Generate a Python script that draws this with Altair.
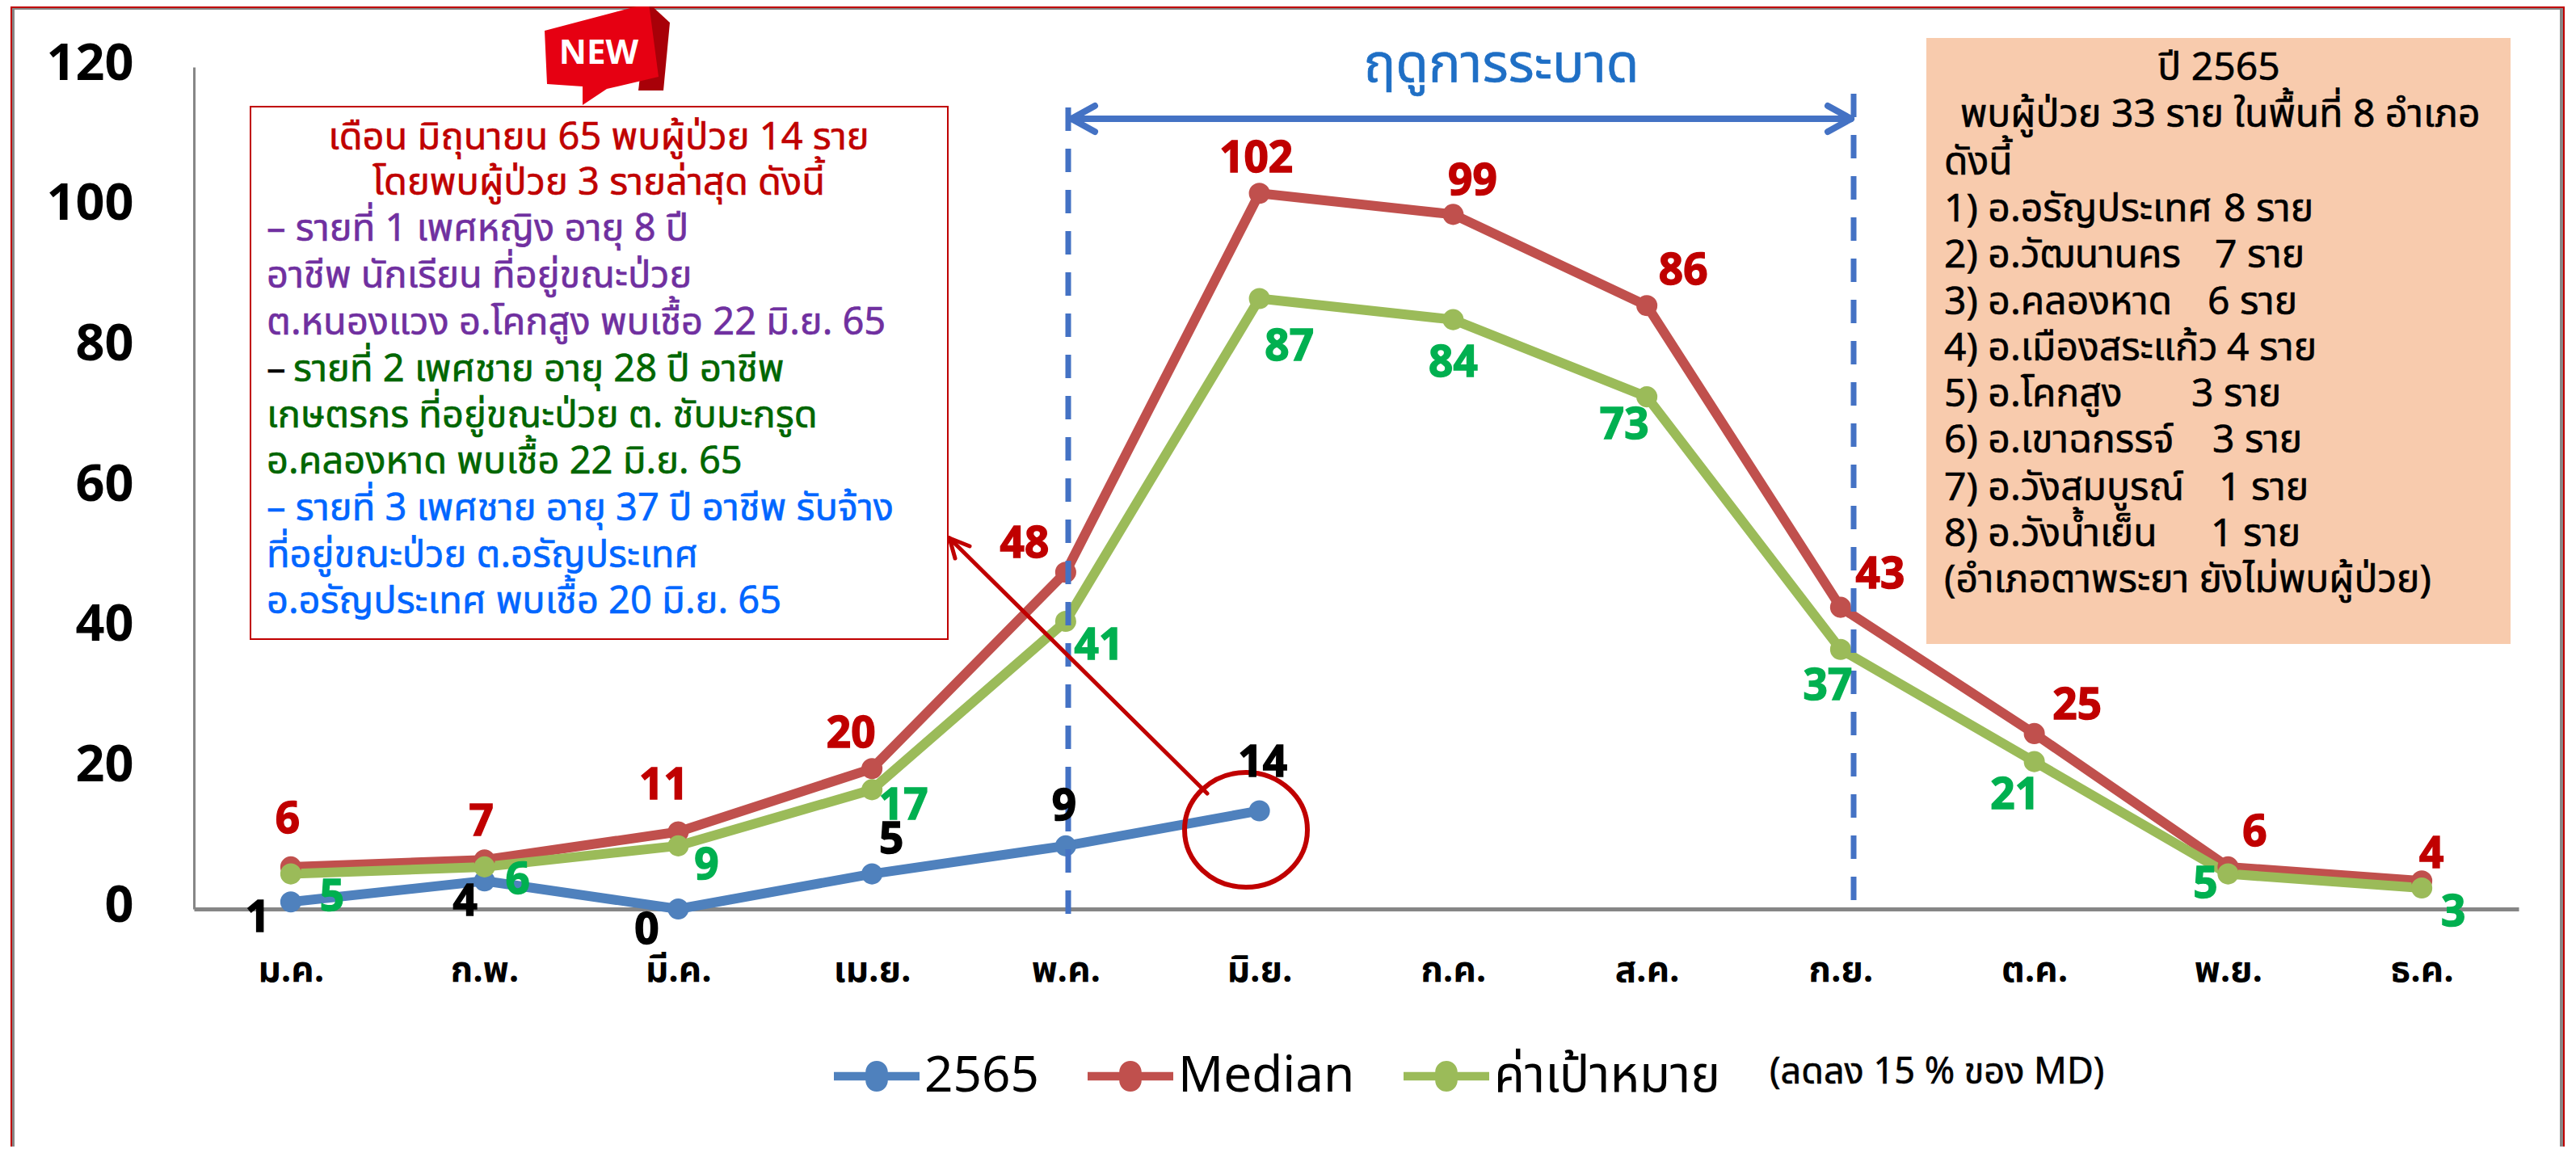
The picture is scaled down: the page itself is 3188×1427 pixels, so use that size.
import altair as alt
import pandas as pd

months = ["ม.ค.", "ก.พ.", "มี.ค.", "เม.ย.", "พ.ค.", "มิ.ย.", "ก.ค.", "ส.ค.", "ก.ย.", "ต.ค.", "พ.ย.", "ธ.ค."]
series_names = ["2565", "Median", "ค่าเป้าหมาย"]
series_colors = ["#4F81BD", "#C0504D", "#9BBB59"]
cases_2565 = [1, 4, 0, 5, 9, 14]
median = [6, 7, 11, 20, 48, 102, 99, 86, 43, 25, 6, 4]
target = [5, 6, 9, 17, 41, 87, 84, 73, 37, 21, 5, 3]

# label offsets (layout)
off_blue = [(-41, 21), (-24, 27), (-39, 27), (24, -42), (-2, -48), (4, -58)]
off_med = [(-4, -58), (-4, -46), (-18, -56), (-26, -42), (-51, -34), (-4, -42), (24, -40), (45, -42), (49, -40), (53, -34), (33, -42), (12, -32)]
off_tgt = [(51, 29), (41, 17), (35, 25), (39, 21), (41, 31), (37, 60), (0, 54), (-28, 36), (-16, 46), (-24, 42), (-28, 13), (39, 31)]

left_lines = [
    ("เดือน มิถุนายน 65 พบผู้ป่วย 14 ราย", 741, 171, "center", "#C00000"),
    ("โดยพบผู้ป่วย 3 รายล่าสุด ดังนี้", 741, 227, "center", "#C00000"),
    ("– รายที่ 1 เพศหญิง อายุ 8 ปี", 330, 284, "left", "#7030A0"),
    ("อาชีพ นักเรียน ที่อยู่ขณะป่วย", 330, 342, "left", "#7030A0"),
    ("ต.หนองแวง อ.โคกสูง พบเชื้อ 22 มิ.ย. 65", 330, 400, "left", "#7030A0"),
    ("–", 330, 458, "left", "#000000"),
    ("รายที่ 2 เพศชาย อายุ 28 ปี อาชีพ", 363, 458, "left", "#006600"),
    ("เกษตรกร ที่อยู่ขณะป่วย ต. ชับมะกรูด", 330, 515, "left", "#006600"),
    ("อ.คลองหาด พบเชื้อ 22 มิ.ย. 65", 330, 572, "left", "#006600"),
    ("– รายที่ 3 เพศชาย อายุ 37 ปี อาชีพ รับจ้าง", 330, 630, "left", "#0066FF"),
    ("ที่อยู่ขณะป่วย ต.อรัญประเทศ", 330, 688, "left", "#0066FF"),
    ("อ.อรัญประเทศ พบเชื้อ 20 มิ.ย. 65", 330, 745, "left", "#0066FF"),
]
right_lines = [
    ("ปี 2565", 2746, 85, "center"),
    ("พบผู้ป่วย 33 ราย ในพื้นที่ 8 อำเภอ", 2426, 143, "left"),
    ("ดังนี้", 2406, 202, "left"),
    ("1) อ.อรัญประเทศ", 2406, 260, "left"), ("8 ราย", 2752, 260, "left"),
    ("2) อ.วัฒนานคร", 2406, 317, "left"), ("7 ราย", 2741, 317, "left"),
    ("3) อ.คลองหาด", 2406, 375, "left"), ("6 ราย", 2732, 375, "left"),
    ("4) อ.เมืองสระแก้ว", 2406, 432, "left"), ("4 ราย", 2756, 432, "left"),
    ("5) อ.โคกสูง", 2406, 489, "left"), ("3 ราย", 2712, 489, "left"),
    ("6) อ.เขาฉกรรจ์", 2406, 546, "left"), ("3 ราย", 2738, 546, "left"),
    ("7) อ.วังสมบูรณ์", 2406, 605, "left"), ("1 ราย", 2746, 605, "left"),
    ("8) อ.วังน้ำเย็น", 2406, 662, "left"), ("1 ราย", 2736, 662, "left"),
    ("(อำเภอตาพระยา ยังไม่พบผู้ป่วย)", 2406, 719, "left"),
]

FONT = "Noto Sans Thai, Noto Sans, Open Sans, sans-serif"
X0, Y0 = 240, 83   # page position of the plot origin
W, H = 2877, 1042
ONE = alt.Data(values=[{"a": 1}])


def text(s, x, y, size, color, align="left", weight="normal", heavy=0.6):
    return alt.Chart(ONE).mark_text(text=s, align=align, baseline="middle", fontSize=size, color=color,
                                    stroke=color, strokeWidth=heavy,
                                    fontWeight=weight, font=FONT).encode(x=alt.value(x - X0), y=alt.value(y - Y0))


def seg(x1, y1, x2, y2, color, w, dash=None, cap="round"):
    kw = {"strokeDash": dash} if dash else {}
    return alt.Chart(ONE).mark_rule(color=color, strokeWidth=w, strokeCap=cap, **kw).encode(
        x=alt.value(x1 - X0), y=alt.value(y1 - Y0), x2=alt.value(x2 - X0), y2=alt.value(y2 - Y0))


def box(x1, y1, x2, y2, fill, stroke=None, sw=0):
    kw = {"stroke": stroke, "strokeWidth": sw} if stroke else {}
    return alt.Chart(ONE).mark_rect(fill=fill, **kw).encode(
        x=alt.value(x1 - X0), y=alt.value(y1 - Y0), x2=alt.value(x2 - X0), y2=alt.value(y2 - Y0))


def shape(path, x, y, fill=None, stroke=None, sw=0):
    kw = {}
    if fill:
        kw["fill"] = fill
    if stroke:
        kw["stroke"] = stroke
        kw["strokeWidth"] = sw
    return alt.Chart(ONE).mark_point(shape=path, size=4, filled=bool(fill), opacity=1, **kw).encode(
        x=alt.value(x - X0), y=alt.value(y - Y0))


rows = []
for name, vals in zip(series_names, [cases_2565, median, target]):
    for m, v in zip(months, vals):
        rows.append({"month": m, "value": v, "series": name})
df = pd.DataFrame(rows)

x_enc = alt.X("month:N", sort=months, scale=alt.Scale(type="point", padding=0.5, domain=months),
              axis=alt.Axis(title=None, labelAngle=0, labelFontSize=44, labelFontWeight="bold", labelFont=FONT,
                            labelColor="#000000", labelPadding=54, ticks=False, grid=False,
                            domainColor="#868686", domainWidth=5))
y_enc = alt.Y("value:Q", scale=alt.Scale(domain=[0, 120], nice=False),
              axis=alt.Axis(title=None, values=[0, 20, 40, 60, 80, 100, 120], labelFontSize=63, labelFontWeight="bold",
                            labelFont=FONT, labelColor="#000000", labelPadding=75, labelOffset=-4, ticks=False, grid=False,
                            domainColor="#868686", domainWidth=3))
legend_path = "M-1,-0.1H-0.26A0.26,0.26 0 0 1 0.26,-0.1H1V0.1H0.26A0.26,0.26 0 0 1 -0.26,0.1H-1Z"
legend = alt.Legend(title=None, orient="none", legendX=792, legendY=1196, direction="horizontal", columns=3,
                    symbolType=legend_path, symbolSize=11236, symbolStrokeWidth=0, labelFont=FONT, labelFontSize=62,
                    labelColor="#000000", labelOffset=6, columnPadding=60, padding=0, labelLimit=0)
color_enc = alt.Color("series:N", sort=series_names, scale=alt.Scale(domain=series_names, range=series_colors), legend=legend)

lines = alt.Chart(df).mark_line(strokeWidth=12, strokeCap="round", strokeJoin="round").encode(
    x=x_enc, y=y_enc, color=color_enc, detail="series:N")
points = alt.Chart(df).mark_point(filled=True, size=680, opacity=1).encode(x=x_enc, y=y_enc, color=color_enc)

layers = []
# frame
layers += [box(15, 8, 18, 1419, "#868686"), box(3168, 10, 3172, 1419, "#868686"), box(13, 10, 3174, 12, "#868686"),
           box(13, 8, 15, 1419, "#C00000"), box(3172, 8, 3174, 1419, "#C00000"), box(13, 8, 3174, 10, "#C00000")]
# side boxes
layers += [box(2384, 47, 3107, 797, "#F8CBAD")]
layers += [box(310, 132, 1173, 791, "#FFFFFF", "#C00000", 2)]
layers += [lines, points]
# season marks
layers += [seg(1322, 133, 1322, 1135, "#4472C4", 7, [29, 22], "butt"),
           seg(2294, 116, 2294, 1120, "#4472C4", 7, [29, 22], "butt"),
           seg(1326, 147, 2291, 147, "#4472C4", 8, None, "butt"),
           seg(1326, 147, 1355, 131, "#4472C4", 8), seg(1326, 147, 1355, 163, "#4472C4", 8),
           seg(2291, 147, 2262, 131, "#4472C4", 8), seg(2291, 147, 2262, 163, "#4472C4", 8)]
# ellipse + red arrow
layers += [shape("M-76,0A76,71 0 1 1 76,0A76,71 0 1 1 -76,0Z", 1542, 1027, None, "#C00000", 6),
           seg(1175, 666, 1494, 982, "#C00000", 5), seg(1175, 666, 1200, 676, "#C00000", 5), seg(1175, 666, 1182, 691, "#C00000", 5)]
# NEW badge (path in page pixels relative to the plot origin)
layers += [
    shape("M563,-79L589,-55L581,29L550,29Z", X0, Y0, "#A80008"),
    shape("M434,-45L563,-79L575,12L511,27L481,47L481,24L437,21Z", X0, Y0, "#E60012"),
    text("NEW", 741, 66, 42, "#FFFFFF", "center", "bold", 0),
]
# data labels
for name, vals, offs, col in [("2565", cases_2565, off_blue, "#000000"), ("Median", median, off_med, "#C00000"),
                              ("t", target, off_tgt, "#00B050")]:
    for m, v, (dx, dy) in zip(months, vals, offs):
        d = pd.DataFrame({"month": [m], "value": [v]})
        layers.append(alt.Chart(d).mark_text(dx=dx, dy=dy, fontSize=53, fontWeight="bold", color=col, stroke=col,
                                             strokeWidth=1.5, font=FONT, baseline="middle").encode(
            x=alt.X("month:N", sort=months, scale=alt.Scale(type="point", padding=0.5, domain=months)),
            y=alt.Y("value:Q", scale=alt.Scale(domain=[0, 120], nice=False)),
            text="value:Q"))
# annotation text
layers += [text("ฤดูการระบาด", 1858, 81, 66, "#1F6FC5", "center")]
layers += [text(s, x, y, 47, c, a) for s, x, y, a, c in left_lines]
layers += [text(s, x, y, 48, "#000000", a) for s, x, y, a in right_lines]
layers += [text("(ลดลง 15 % ของ MD)", 2190, 1327, 45, "#000000")]

chart = alt.layer(*layers).resolve_scale(x="shared", y="shared").properties(
    width=W, height=H, autosize=alt.AutoSizeParams(type="none"),
    padding={"left": X0 - 8, "top": Y0 - 8, "right": 63, "bottom": 294}, background="#FFFFFF",
).configure_view(strokeWidth=0)

chart.save("out.html", embed_options={"renderer": "svg", "actions": False})
